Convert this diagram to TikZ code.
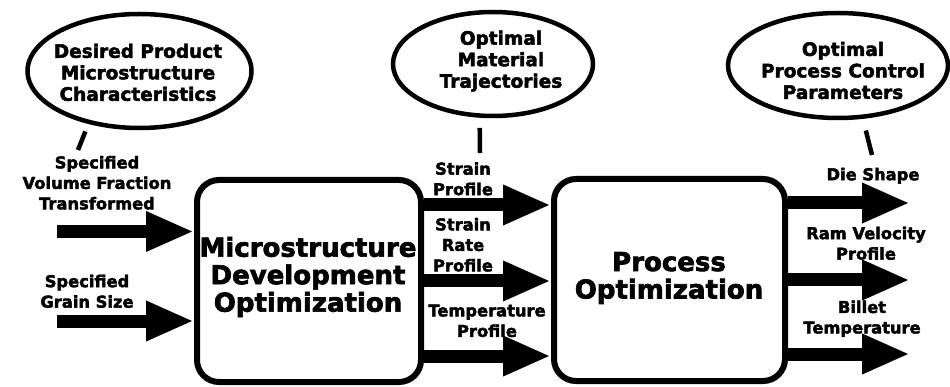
\documentclass[tikz,border=0pt]{standalone}
\usepackage{fontspec}
\setmainfont{DejaVu Sans Bold}[FakeBold=2.5]
\usetikzlibrary{arrows.meta,shapes.geometric}
\begin{document}
\begin{tikzpicture}[x=1pt,y=-1pt,
  block/.style={draw, line width=6pt, rounded corners=22pt, inner sep=0pt},
  oval/.style={draw, ellipse, line width=4.5pt, inner sep=0pt},
  link/.style={line width=4.5pt},
  flow/.style={line width=13pt, -{Triangle[length=48pt,width=37pt]}},
  lbl/.style={align=center, inner sep=0pt, font=\fontsize{16.3}{20.5}\selectfont},
  ovaltxt/.style={align=center, inner sep=0pt, font=\fontsize{18.5}{21.5}\selectfont},
  boxtxt/.style={align=center, inner sep=0pt, font=\fontsize{26}{27.5}\selectfont}]
\useasboundingbox (0,0) rectangle (950,387);

% main optimization blocks
\node[block, minimum width=224pt, minimum height=202pt] (box1) at (309,281) {};
\node[boxtxt] (box1txt) at (308,277) {Microstructure\\Development\\Optimization};
\node[block, minimum width=231pt, minimum height=202pt] (box2) at (669.5,280) {};
\node[boxtxt] (box2txt) at (669,278) {Process\\Optimization};

% goal ovals
\node[oval, minimum width=224pt, minimum height=114pt] (e1) at (139.5,71) {};
\node[ovaltxt] (e1txt) at (138,72.4) {Desired Product\\Microstructure\\Characteristics};
\node[oval, minimum width=200pt, minimum height=104pt] (e2) at (493,64) {};
\node[ovaltxt] (e2txt) at (501,61.2) {Optimal\\Material\\Trajectories};
\node[oval, minimum width=220pt, minimum height=105pt] (e3) at (838,65.5) {};
\node[ovaltxt] (e3txt) at (843,70.5) {Optimal\\Process Control\\Parameters};

% oval tethers
\coordinate (t1) at (78,150);
\coordinate (t2) at (480,153);
\coordinate (t3) at (872,155);
\draw[link, shorten <=8pt] (e1.226) -- (t1);
\draw[link, shorten <=10pt] (e2.256) -- (t2);
\draw[link, shorten <=12pt] (e3.295) -- (t3);

% inputs
\coordinate (in1) at (57,231.5);
\coordinate (in2) at (57,321);
\draw[flow] (in1) -- (in1 -| box1.west);
\draw[flow] (in2) -- (in2 -| box1.west);
\node[lbl] (lin1) at (97,182.8) {Specified\\Volume Fraction\\Transformed};
\node[lbl] (lin2) at (87,291.3) {Specified\\Grain Size};

% trajectories between the blocks
\coordinate (m1) at (0,205);
\coordinate (m2) at (0,281);
\coordinate (m3) at (0,356);
\draw[flow] (m1 -| box1.east) -- (m1 -| box2.west);
\draw[flow] (m2 -| box1.east) -- (m2 -| box2.west);
\draw[flow] (m3 -| box1.east) -- (m3 -| box2.west);
\node[lbl] (lm1) at (463,178.8) {Strain\\Profile};
\node[lbl] (lm2) at (463,244.8) {Strain\\Rate\\Profile};
\node[lbl] (lm3) at (487,320.8) {Temperature\\Profile};

% control outputs
\coordinate (o1) at (910,203);
\coordinate (o2) at (910,280);
\coordinate (o3) at (910,354);
\draw[flow] (o1 -| box2.east) -- (o1);
\draw[flow] (o2 -| box2.east) -- (o2);
\draw[flow] (o3 -| box2.east) -- (o3);
\node[lbl] (lo1) at (873,175.7) {Die Shape};
\node[lbl] (lo2) at (866,243.3) {Ram Velocity\\Profile};
\node[lbl] (lo3) at (862,318.7) {Billet\\Temperature};
\end{tikzpicture}
\end{document}
